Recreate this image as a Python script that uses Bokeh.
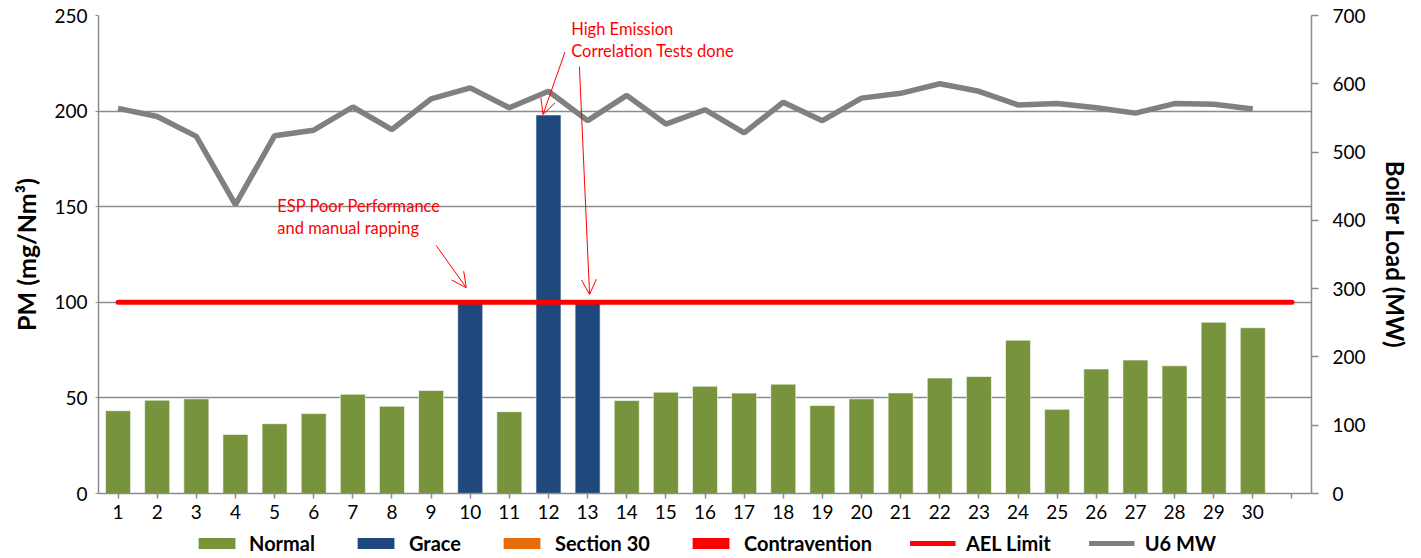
from bokeh.plotting import figure
from bokeh.layouts import column
from bokeh.models import (Range1d, LinearAxis, FixedTicker, ColumnDataSource, Legend,
                          LegendItem, Arrow, OpenHead, Label)
from bokeh.embed import file_html
from bokeh.resources import INLINE

# ---------------- data ----------------
days = list(range(1, 31))
pm_values = [43.3, 48.8, 49.5, 30.9, 36.5, 41.8, 51.9, 45.6, 53.9, 101.0,
             42.8, 198.0, 101.0, 48.6, 53.0, 56.1, 52.5, 57.2, 46.0, 49.5,
             52.6, 60.4, 61.2, 80.2, 44.0, 65.1, 69.8, 66.8, 89.6, 86.7]
status = ["Normal"] * 9 + ["Grace", "Normal", "Grace", "Grace"] + ["Normal"] * 17
u6_mw = [564, 552, 523, 423, 524, 532, 566, 533, 578, 594,
         565, 589, 546, 583, 541, 562, 528, 573, 546, 579,
         586, 600, 589, 569, 571, 565, 557, 571, 570, 563]
ael_days = [1, 31]
ael_limit = [100, 100]
x_ticks = list(range(1, 32))
pm_ticks = [0, 50, 100, 150, 200, 250]
mw_ticks = [0, 100, 200, 300, 400, 500, 600, 700]

legend_names = ["Normal", "Grace", "Section 30", "Contravention", "AEL Limit", "U6 MW"]
colors = {"Normal": "#77933C", "Grace": "#1F497D", "Section 30": "#E46C0A",
          "Contravention": "#FF0000", "AEL Limit": "#FF0000", "U6 MW": "#808080"}

FONT = "Lato"
AXIS_GRAY = "#8c8c8c"

# ---------------- main figure ----------------
p = figure(width=1421, height=528, x_range=Range1d(0.5, 31.5), y_range=Range1d(0, 250),
           output_backend="svg", toolbar_location=None,
           min_border_left=98, min_border_right=110, min_border_top=15, min_border_bottom=35)
p.extra_y_ranges = {"mw": Range1d(0, 700)}
p.outline_line_color = None
p.background_fill_color = "white"
p.border_fill_color = "white"

p.xgrid.grid_line_color = None
p.ygrid.grid_line_color = AXIS_GRAY
p.ygrid.grid_line_width = 1.5
p.ygrid.ticker = FixedTicker(ticks=pm_ticks)

xa = p.xaxis[0]
xa.ticker = FixedTicker(ticks=x_ticks)
xa.major_label_overrides = {31: ""}
xa.axis_line_color = AXIS_GRAY
xa.axis_line_width = 1.5
xa.major_tick_line_color = AXIS_GRAY
xa.major_tick_line_width = 1.5
xa.major_tick_out = 5
xa.major_tick_in = 0
xa.minor_tick_line_color = None
xa.major_label_standoff = 6
xa.major_label_text_font = FONT
xa.major_label_text_font_size = "19px"
xa.major_label_text_color = "black"

ya = p.yaxis[0]
ya.ticker = FixedTicker(ticks=pm_ticks)
ya.axis_label = "PM (mg/Nm³)"
ya.axis_label_text_font = FONT
ya.axis_label_text_font_size = "25px"
ya.axis_label_text_font_style = "bold"
ya.axis_label_text_color = "black"
ya.axis_label_standoff = 10
ya.axis_line_color = AXIS_GRAY
ya.axis_line_width = 1.5
ya.major_tick_line_color = AXIS_GRAY
ya.major_tick_out = 3
ya.major_tick_in = 0
ya.minor_tick_line_color = None
ya.major_label_standoff = 8
ya.major_label_text_font = FONT
ya.major_label_text_font_size = "19px"
ya.major_label_text_color = "black"

ra = LinearAxis(y_range_name="mw", ticker=FixedTicker(ticks=mw_ticks))
ra.axis_label = "Boiler Load (MW)"
ra.axis_label_text_font = FONT
ra.axis_label_text_font_size = "24px"
ra.axis_label_text_font_style = "bold"
ra.axis_label_text_color = "black"
ra.axis_label_standoff = 12
ra.axis_line_color = AXIS_GRAY
ra.axis_line_width = 1.5
ra.major_tick_line_color = AXIS_GRAY
ra.major_tick_line_width = 1.5
ra.major_tick_out = 7
ra.major_tick_in = 0
ra.minor_tick_line_color = None
ra.major_label_standoff = 14
ra.major_label_text_font = FONT
ra.major_label_text_font_size = "19px"
ra.major_label_text_color = "black"
p.add_layout(ra, "right")

for name in ["Normal", "Grace"]:
    src = ColumnDataSource(dict(
        x=[d for d, s in zip(days, status) if s == name],
        top=[v for v, s in zip(pm_values, status) if s == name]))
    p.vbar(x="x", top="top", width=0.64, bottom=0, source=src,
           fill_color=colors[name], line_color="white", line_alpha=0.6, line_width=1)

p.line(ael_days, ael_limit, line_color=colors["AEL Limit"], line_width=5, line_cap="round")
p.line(days, u6_mw, y_range_name="mw", line_color=colors["U6 MW"], line_width=5.5)

ann_style = dict(text_color="#FF0000", text_font=FONT, text_font_size="16.5px",
                 text_baseline="middle", text_align="left")
p.add_layout(Label(x=5.07, y=150.6, text="ESP Poor Performance", **ann_style))
p.add_layout(Label(x=5.07, y=138.6, text="and manual rapping", **ann_style))
p.add_layout(Label(x=12.58, y=242.7, text="High Emission", **ann_style))
p.add_layout(Label(x=12.58, y=231.3, text="Correlation Tests done", **ann_style))

arrows = [(9.13, 129.7, 9.90, 107.6), (12.42, 230.8, 11.86, 198.2), (12.79, 223.3, 13.05, 104.1)]
for xs, ys, xe, ye in arrows:
    p.add_layout(Arrow(x_start=xs, y_start=ys, x_end=xe, y_end=ye,
                       line_color="#FF0000", line_width=1,
                       end=OpenHead(size=15, line_color="#FF0000", line_width=1)))

# ---------------- legend strip ----------------
lp = figure(width=1421, height=30, x_range=Range1d(0, 1), y_range=Range1d(0, 1),
            output_backend="svg", toolbar_location=None,
            min_border_left=0, min_border_right=0, min_border_top=0, min_border_bottom=0)
lp.axis.visible = False
lp.grid.visible = False
lp.outline_line_color = None

nan = float("nan")
legend_renderers = {}
for name in ["Normal", "Grace", "Section 30", "Contravention"]:
    legend_renderers[name] = lp.vbar(x=[nan], top=[nan], width=0.1, bottom=0,
                                     fill_color=colors[name], line_color=None)
for name in ["AEL Limit", "U6 MW"]:
    legend_renderers[name] = lp.line(x=[nan, nan], y=[nan, nan],
                                     line_color=colors[name], line_width=5)

legend = Legend(items=[LegendItem(label=n, renderers=[legend_renderers[n]]) for n in legend_names],
                orientation="horizontal", location="center",
                label_text_font=FONT, label_text_font_size="20px",
                label_text_font_style="bold", label_text_color="black",
                label_height=20, glyph_width=46, glyph_height=14, label_standoff=10,
                spacing=38, padding=0, margin=0, border_line_color=None,
                background_fill_alpha=0)
lp.add_layout(legend, "center")

open("out.html", "w").write(file_html(column(p, lp, spacing=0), INLINE))
